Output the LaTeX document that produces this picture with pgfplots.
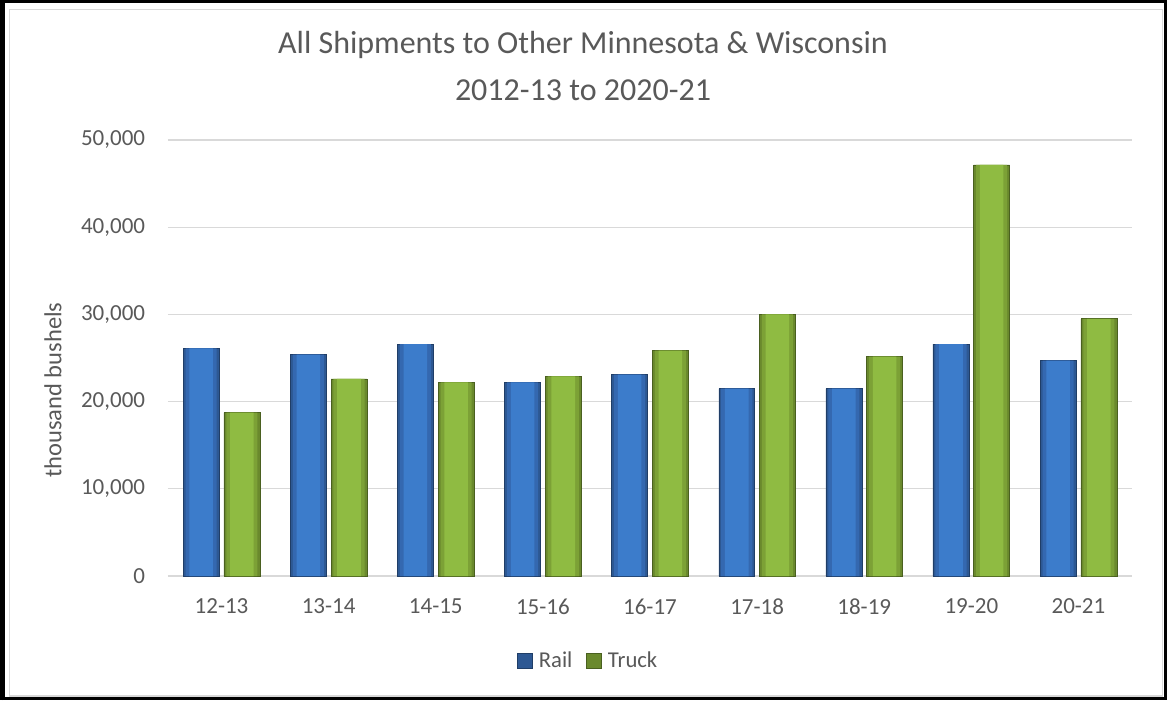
\documentclass[border=0pt]{standalone}
\usepackage{fontspec}
\setmainfont{Carlito}
\usepackage{pgfplots}
\pgfplotsset{compat=1.18}

\definecolor{txt}{HTML}{595959}
\definecolor{gridc}{HTML}{D9D9D9}
\definecolor{blueD}{HTML}{2D5893}
\definecolor{blueM}{HTML}{3468B0}
\definecolor{blueL}{HTML}{3C7CCB}
\definecolor{greenD}{HTML}{6A892D}
\definecolor{greenM}{HTML}{7CA136}
\definecolor{greenL}{HTML}{8FBB42}

\pgfplotstableread{
x rail truck
0 26100 18750
1 25400 22600
2 26600 22200
3 22200 22900
4 23100 25850
5 21500 30000
6 21500 25150
7 26600 47150
8 24700 29500
}\shipdata

\begin{document}
\begin{tikzpicture}
\useasboundingbox (-126pt,-93pt) rectangle (749.25pt,432pt);
\begin{axis}[
    at={(0,0)}, anchor=south west,
    scale only axis,
    width=723pt, height=327pt,
    xmin=-0.5, xmax=8.5,
    ymin=0, ymax=50000,
    xtick={0,1,2,3,4,5,6,7,8},
    xticklabels={12-13,13-14,14-15,15-16,16-17,17-18,18-19,19-20,20-21},
    ytick={0,10000,20000,30000,40000,50000},
    scaled y ticks=false,
    /pgf/number format/.cd, fixed, 1000 sep={,}, assume math mode=true, /pgfplots/.cd,
    ymajorgrids,
    grid style={gridc, line width=0.9pt},
    axis line style={draw=none},
    tick style={draw=none},
    tick label style={text=txt, font=\fontsize{17.25}{20}\selectfont},
    yticklabel style={inner sep=0pt, xshift=-17pt},
    xticklabel style={inner sep=0pt, yshift=-17pt},
    ylabel={thousand bushels},
    ylabel style={at={(axis description cs:-0.1193,0.4266)}, anchor=center,
        text=txt, font=\fontsize{18.4}{22}\selectfont},
    title={All Shipments to Other Minnesota \& Wisconsin\\2012-13 to 2020-21},
    title style={at={(axis description cs:0.4305,1.1525)}, anchor=center, align=center,
        text=txt, font=\fontsize{24}{35.25}\selectfont},
    legend columns=2,
    legend style={at={(axis description cs:0.436,-0.195)}, anchor=center, draw=none,
        text=txt, font=\fontsize{17}{20}\selectfont,
        /tikz/every even column/.append style={column sep=8pt},
        /tikz/every odd column/.append style={column sep=3pt}},
    legend image code/.code={\draw[#1] (0pt,-5.6pt) rectangle (11.25pt,5.6pt);},
]

% rail: outer bar, then narrower lighter bars on top for the rounded look
\addplot[ybar, bar width=0.336, bar shift=-0.19, fill=blueD, draw=blueD!70!black, line width=0.4pt]
    table[x=x, y=rail] {\shipdata};
\addlegendentry{Rail}
\addplot[ybar, bar width=0.29, bar shift=-0.19, fill=blueM, draw=none, forget plot]
    table[x=x, y=rail] {\shipdata};
\addplot[ybar, bar width=0.22, bar shift=-0.19, fill=blueL, draw=none, forget plot]
    table[x=x, y=rail] {\shipdata};

% truck
\addplot[ybar, bar width=0.336, bar shift=0.19, fill=greenD, draw=greenD!70!black, line width=0.4pt]
    table[x=x, y=truck] {\shipdata};
\addlegendentry{Truck}
\addplot[ybar, bar width=0.29, bar shift=0.19, fill=greenM, draw=none, forget plot]
    table[x=x, y=truck] {\shipdata};
\addplot[ybar, bar width=0.22, bar shift=0.19, fill=greenL, draw=none, forget plot]
    table[x=x, y=truck] {\shipdata};

\end{axis}
\draw[gridc, line width=0.9pt] (-126pt+7pt,-93pt+3pt) rectangle (749.25pt-3.5pt,432pt-7pt);
\draw[black, line width=2.6pt] (-126pt+1.3pt,-93pt+1.3pt) rectangle (749.25pt-1.3pt,432pt-1.3pt);
\draw[black, line width=2pt] (-126pt+2.5pt,-93pt) -- (-126pt+2.5pt,432pt);
\end{tikzpicture}
\end{document}
